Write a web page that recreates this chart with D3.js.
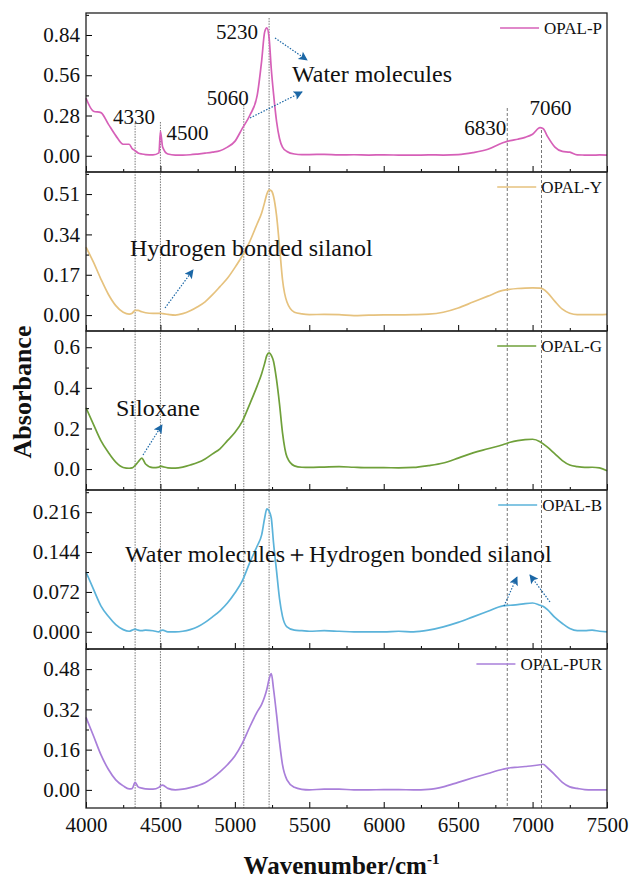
<!DOCTYPE html>
<html>
<head>
<meta charset="utf-8">
<script src="https://cdn.jsdelivr.net/npm/d3@7"></script>
<style>
  body { margin: 0; background: #fff; }
  svg { display: block; }
  svg text { font-family: "Liberation Serif", "Tinos", "DejaVu Serif", serif !important; fill: #111; }
</style>
</head>
<body>
<div id="chart"></div>
<script>
// wavenumbers (cm-1) shared by all spectra
const wavenumber = [4000, 4050, 4100, 4150, 4200, 4250, 4290, 4310, 4330, 4350, 4375, 4400, 4450, 4490, 4500, 4515, 4550,
  4600, 4650, 4700, 4750, 4800, 4850, 4900, 4950, 5000, 5050, 5100, 5150, 5180, 5200, 5215, 5230, 5245, 5260, 5280,
  5300, 5320, 5350, 5400, 5450, 5500, 5600, 5700, 5800, 5900, 6000, 6100, 6200, 6300, 6400, 6500, 6600, 6700, 6800,
  6850, 6900, 6950, 7000, 7050, 7070, 7100, 7150, 7200, 7250, 7300, 7350, 7400, 7450, 7500];

const opalP = [0.40, 0.31, 0.30, 0.22, 0.14, 0.08, 0.08, 0.05, 0.035, 0.02, 0.012, 0.008, 0.006, 0.02, 0.17, 0.06, 0.012,
  0.005, 0.005, 0.007, 0.012, 0.018, 0.025, 0.035, 0.06, 0.10, 0.19, 0.28, 0.42, 0.66, 0.86, 0.89, 0.82, 0.60, 0.43, 0.24,
  0.12, 0.06, 0.03, 0.012, 0.008, 0.008, 0.01, 0.006, 0.007, 0.005, 0.006, 0.005, 0.004, 0.006, 0.005, 0.008, 0.022, 0.045, 0.09,
  0.105, 0.115, 0.128, 0.15, 0.195, 0.19, 0.135, 0.06, 0.03, 0.025, 0.006, 0.005, 0.004, 0.006, 0.005];

const opalY = [0.286, 0.223, 0.152, 0.088, 0.04, 0.012, 0.004, 0.008, 0.02, 0.02, 0.014, 0.01, 0.007, 0.007, 0.008, 0.006, 0.003,
  0.0, 0.006, 0.018, 0.035, 0.056, 0.086, 0.12, 0.155, 0.2, 0.25, 0.31, 0.385, 0.43, 0.475, 0.51, 0.528, 0.524, 0.50, 0.42,
  0.29, 0.15, 0.055, 0.012, 0.005, 0.002, 0.003, 0.002, -0.002, 0.0, 0.001, 0.001, 0.002, 0.004, 0.012, 0.03, 0.055, 0.08, 0.104,
  0.109, 0.112, 0.114, 0.115, 0.114, 0.11, 0.095, 0.058, 0.025, 0.008, 0.002, 0.002, 0.002, 0.002, 0.003];

const opalG = [0.302, 0.22, 0.14, 0.082, 0.034, 0.008, 0.004, 0.006, 0.018, 0.035, 0.054, 0.025, 0.007, 0.01, 0.015, 0.012, 0.006,
  0.005, 0.01, 0.02, 0.032, 0.05, 0.075, 0.1, 0.14, 0.18, 0.235, 0.32, 0.41, 0.47, 0.52, 0.56, 0.572, 0.56, 0.53, 0.44,
  0.32, 0.18, 0.06, 0.016, 0.009, 0.008, 0.01, 0.012, 0.009, 0.007, 0.007, 0.006, 0.008, 0.017, 0.03, 0.054, 0.08, 0.1, 0.12,
  0.132, 0.14, 0.145, 0.147, 0.135, 0.125, 0.108, 0.075, 0.042, 0.02, 0.012, 0.008, 0.009, 0.006, -0.008];

const opalB = [0.108, 0.077, 0.047, 0.028, 0.013, 0.004, 0.001, 0.003, 0.005, 0.003, 0.002, 0.003, 0.002, 0.0, 0.002, 0.003, 0.0,
  0.0, 0.001, 0.004, 0.009, 0.017, 0.027, 0.038, 0.052, 0.07, 0.092, 0.125, 0.155, 0.175, 0.205, 0.222, 0.218, 0.205, 0.16, 0.11,
  0.06, 0.028, 0.009, 0.003, 0.002, 0.001, 0.002, 0.001, 0.0, 0.0, 0.0, 0.001, 0.0, 0.003, 0.009, 0.017, 0.027, 0.037, 0.047,
  0.048, 0.049, 0.051, 0.052, 0.048, 0.046, 0.04, 0.026, 0.015, 0.006, 0.002, 0.002, 0.003, 0.001, 0.0];

const opalPUR = [0.288, 0.215, 0.14, 0.082, 0.04, 0.016, 0.004, 0.005, 0.03, 0.012, 0.007, 0.004, 0.003, 0.01, 0.016, 0.019, 0.006,
  0.0, 0.003, 0.009, 0.017, 0.028, 0.048, 0.072, 0.1, 0.135, 0.185, 0.25, 0.31, 0.34, 0.37, 0.40, 0.44, 0.462, 0.40, 0.30,
  0.19, 0.1, 0.04, 0.01, 0.002, 0.0, 0.003, 0.003, 0.0, 0.0, 0.001, 0.001, 0.0, 0.002, 0.012, 0.03, 0.048, 0.065, 0.082,
  0.088, 0.09, 0.093, 0.096, 0.1, 0.102, 0.088, 0.06, 0.03, 0.012, 0.006, 0.001, 0.0, 0.0, 0.0];

const seriesNames = ["OPAL-P", "OPAL-Y", "OPAL-G", "OPAL-B", "OPAL-PUR"];
const seriesValues = [opalP, opalY, opalG, opalB, opalPUR];
const colors = ["#D660B8", "#E6C27E", "#6FA03A", "#5BB3DA", "#A97FDA"];

// tick labels for each panel
const yTicksP = [0, 0.28, 0.56, 0.84];
const yTicksY = [0, 0.17, 0.34, 0.51];
const yTicksG = [0, 0.2, 0.4, 0.6];
const yTicksB = [0, 0.072, 0.144, 0.216];
const yTicksPUR = [0, 0.16, 0.32, 0.48];
const yTicks = [yTicksP, yTicksY, yTicksG, yTicksB, yTicksPUR];
const yFormats = [".2f", ".2f", ".1f", ".3f", ".2f"];
const yDomains = [[-0.113, 0.993], [-0.067, 0.603], [-0.103, 0.68], [-0.031, 0.256], [-0.072, 0.56]];

const xTicks = [4000, 4500, 5000, 5500, 6000, 6500, 7000, 7500];
const markedPeaks = [4330, 4500, 5060, 5230, 6830, 7060];

// layout
const W = 630, H = 879;
const plotLeft = 86, plotRight = 607, plotTop = 13, panelH = 159;
const nP = seriesNames.length;
const plotBottom = plotTop + panelH * nP;
const serif = '"Liberation Serif", "Tinos", "DejaVu Serif", serif';

const svg = d3.select("#chart").append("svg")
  .attr("width", W).attr("height", H)
  .attr("font-family", serif);

const x = d3.scaleLinear().domain([4000, 7500]).range([plotLeft, plotRight]);

const defs = svg.append("defs");
defs.append("marker")
  .attr("id", "arrow")
  .attr("viewBox", "0 0 10 10")
  .attr("refX", 9).attr("refY", 5)
  .attr("markerWidth", 11).attr("markerHeight", 9)
  .attr("markerUnits", "userSpaceOnUse")
  .attr("orient", "auto")
  .append("path").attr("d", "M0,0 L10,5 L0,10 L2,5 Z").attr("fill", "#1b67a6");

// vertical marker lines across all panels
const lineStart = {4330: 123, 4500: 122, 5060: 105, 5230: 18, 6830: 108, 7060: 130};
svg.append("g").selectAll("line")
  .data(markedPeaks)
  .join("line")
    .attr("x1", d => x(d)).attr("x2", d => x(d))
    .attr("y1", d => lineStart[d]).attr("y2", plotBottom)
    .attr("stroke", "#777")
    .attr("stroke-width", 1)
    .attr("stroke-dasharray", d => d > 6000 ? "3,2" : "1.5,1.2");

seriesNames.forEach((name, i) => {
  const y0 = plotTop + i * panelH;
  const y = d3.scaleLinear().domain(yDomains[i]).range([y0 + panelH, y0]);
  const g = svg.append("g");

  // curve
  const line = d3.line()
    .x((d, j) => x(wavenumber[j]))
    .y(d => y(d))
    .curve(d3.curveMonotoneX);
  g.append("path")
    .datum(seriesValues[i])
    .attr("d", line)
    .attr("fill", "none")
    .attr("stroke", colors[i])
    .attr("stroke-width", 1.7);

  // bottom axis, inward ticks
  const xa = g.append("g").attr("transform", `translate(0,${y0 + panelH})`)
    .call(d3.axisBottom(x).tickValues(xTicks).tickSizeInner(-6).tickSizeOuter(0).tickPadding(9)
      .tickFormat(i === nP - 1 ? d3.format("d") : ""));
  xa.attr("font-family", serif);
  xa.select(".domain").remove();
  xa.selectAll("text").style("font-size", "21px").attr("fill", "#111");
  const xm = g.append("g").attr("transform", `translate(0,${y0 + panelH})`)
    .call(d3.axisBottom(x).tickValues(d3.range(4250, 7500, 500)).tickSizeInner(-3).tickSizeOuter(0).tickFormat(""));
  xm.select(".domain").remove();

  // left axis, inward ticks
  const ya = g.append("g").attr("transform", `translate(${plotLeft},0)`)
    .call(d3.axisLeft(y).tickValues(yTicks[i]).tickSizeInner(-6).tickSizeOuter(0).tickPadding(6)
      .tickFormat(d3.format(yFormats[i])));
  ya.attr("font-family", serif);
  ya.select(".domain").remove();
  ya.selectAll("text").style("font-size", "21px").attr("fill", "#111");
  const step = yTicks[i][1] / 2;
  const minors = yTicks[i].map(t => t + step).concat([-step]).filter(t => t > yDomains[i][0] && t < yDomains[i][1]);
  const ym = g.append("g").attr("transform", `translate(${plotLeft},0)`)
    .call(d3.axisLeft(y).tickValues(minors).tickSizeInner(-3).tickSizeOuter(0).tickFormat(""));
  ym.select(".domain").remove();

  // frame
  g.append("rect")
    .attr("x", plotLeft).attr("y", y0)
    .attr("width", plotRight - plotLeft).attr("height", panelH)
    .attr("fill", "none").attr("stroke", "#222").attr("stroke-width", 1.3);

  // legend
  const ly = y0 + 15;
  const lt = g.append("text")
    .attr("x", 602).attr("y", ly).attr("dy", "0.35em")
    .attr("text-anchor", "end")
    .style("font-size", "17px")
    .text(name);
  const tw = lt.node().getComputedTextLength();
  g.append("line")
    .attr("x1", 602 - tw - 44).attr("x2", 602 - tw - 5)
    .attr("y1", ly).attr("y2", ly)
    .attr("stroke", colors[i]).attr("stroke-width", 1.5);
});

// peak labels
const peakLabels = [
  {t: "4330", x: x(4330) - 22, y: 124},
  {t: "4500", x: x(4500) + 6, y: 140},
  {t: "5060", x: x(5060) - 37, y: 105},
  {t: "5230", x: x(5230) - 53, y: 39},
  {t: "6830", x: x(6830) - 43, y: 135},
  {t: "7060", x: x(7060) - 12, y: 115}
];
svg.append("g").selectAll("text")
  .data(peakLabels)
  .join("text")
    .attr("x", d => d.x).attr("y", d => d.y)
    .style("font-size", "21px")
    .text(d => d.t);

// assignment notes
const notes = [
  {t: "Water molecules", x: 292, y: 82},
  {t: "Hydrogen bonded silanol", x: 130, y: 256},
  {t: "Siloxane", x: 116, y: 416},
  {t: "Water molecules\uFF0BHydrogen bonded silanol", x: 125, y: 562}
];
svg.append("g").selectAll("text")
  .data(notes)
  .join("text")
    .attr("x", d => d.x).attr("y", d => d.y)
    .style("font-size", "24px")
    .text(d => d.t);

const arrows = [
  [275, 38, 307, 60], [250, 118, 302, 92], [165, 308, 193, 270],
  [143, 455, 162, 425], [504, 606, 517, 577], [550, 602, 530, 575]
];
svg.append("g").selectAll("line")
  .data(arrows)
  .join("line")
    .attr("x1", d => d[0]).attr("y1", d => d[1])
    .attr("x2", d => d[2]).attr("y2", d => d[3])
    .attr("stroke", "#1b67a6").attr("stroke-width", 1.2)
    .attr("stroke-dasharray", "1.5,1.5")
    .attr("marker-end", "url(#arrow)");

// axis titles
svg.append("text")
  .attr("x", (plotLeft + plotRight) / 2 - 5).attr("y", 874)
  .attr("text-anchor", "middle")
  .style("font-size", "25px").style("font-weight", "bold")
  .text("Wavenumber/cm")
  .append("tspan").attr("dy", -10).style("font-size", "15px").text("-1");

svg.append("text")
  .attr("transform", "translate(31,392) rotate(-90)")
  .attr("text-anchor", "middle")
  .style("font-size", "26px").style("font-weight", "bold")
  .text("Absorbance");
</script>
</body>
</html>
